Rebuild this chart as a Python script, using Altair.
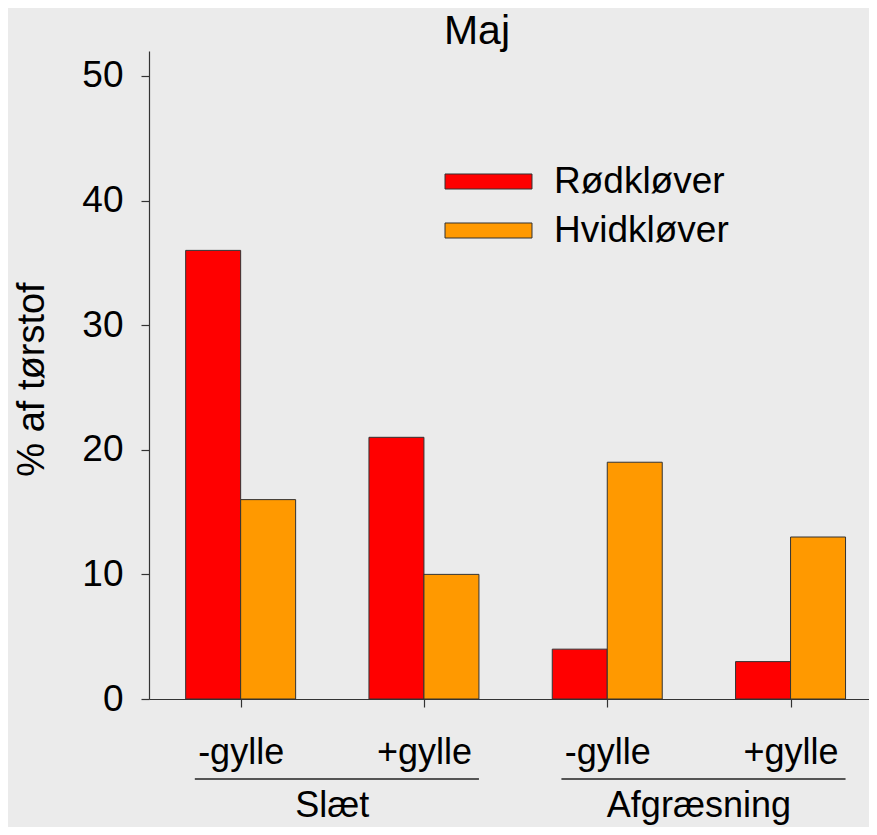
import json
import altair as alt
import pandas as pd

# ---- data ----
groups = ["Slæt", "Slæt", "Afgræsning", "Afgræsning"]
subgroups = ["-gylle", "+gylle", "-gylle", "+gylle"]
series_names = ["Rødkløver", "Hvidkløver"]
rodklover = [36, 21, 4, 3]
hvidklover = [16, 10, 19, 13]
y_ticks = [0, 10, 20, 30, 40, 50]
title_text = "Maj"
y_title = "% af tørstof"

# ---- styles ----
colors = ["#ff0000", "#ff9900"]
FONT = "Liberation Sans"
BAR = 0.3  # bar width in category units
STEP_PX = 183.3
W, H = 720, 648

rows = []
for i in range(len(subgroups)):
    for k, vals in enumerate([rodklover, hvidklover]):
        rows.append(dict(pos=i + 0.5, series=series_names[k], value=vals[i], k=k))
bars_df = pd.DataFrame(rows)

grows = []
for g in dict.fromkeys(groups):
    idx = [i for i, gg in enumerate(groups) if gg == g]
    grows.append(dict(group=g, first=min(idx) + 0.5, last=max(idx) + 0.5))
groups_df = pd.DataFrame(grows)

xscale = alt.Scale(domain=[0, W / STEP_PX], nice=False, zero=False)
label_expr = f"{json.dumps(subgroups)}[floor(datum.value)]"

bars = (
    alt.Chart(bars_df)
    .transform_calculate(
        x0=f"datum.pos + (datum.k - 1) * {BAR}",
        x1=f"datum.pos + datum.k * {BAR}",
        base="0",
    )
    .mark_bar(stroke="#333333", strokeWidth=1)
    .encode(
        x=alt.X(
            "x0:Q",
            scale=xscale,
            axis=alt.Axis(
                values=[i + 0.5 for i in range(len(subgroups))],
                labelExpr=label_expr,
                title=None,
                grid=False,
                tickSize=8,
                labelPadding=28,
                labelBaseline="top",
                labelFontSize=36,
            ),
        ),
        x2="x1:Q",
        y=alt.Y(
            "value:Q",
            scale=alt.Scale(domain=[0, 52], nice=False),
            axis=alt.Axis(
                values=y_ticks,
                title=y_title,
                grid=False,
                tickSize=8,
                labelPadding=18,
                labelFontSize=37,
                titleFontSize=38,
                titleFontWeight="normal",
                titleAngle=270,
                titleBaseline="alphabetic",
                titleAlign="center",
                titleX=-106,
                titleY=328,
            ),
        ),
        y2="base:Q",
        color=alt.Color(
            "series:N",
            scale=alt.Scale(domain=series_names, range=colors),
            legend=alt.Legend(
                title=None,
                orient="none",
                legendX=317,
                legendY=108,
                symbolType="M-2,-0.345H2V0.345H-2Z",
                symbolSize=1892,
                symbolStrokeColor="#333333",
                symbolStrokeWidth=1,
                labelFontSize=37,
                labelFont=FONT,
                labelColor="black",
                labelOffset=43,
                labelLimit=0,
                rowPadding=8,
                padding=0,
            ),
        ),
    )
)

rules = (
    alt.Chart(groups_df)
    .transform_calculate(r0="datum.first - 0.25", r1="datum.last + 0.3")
    .mark_rule(color="#222222", strokeWidth=1.3)
    .encode(x=alt.X("r0:Q", scale=xscale), x2="r1:Q", y=alt.value(728))
)

glabels = (
    alt.Chart(groups_df)
    .transform_calculate(mid="(datum.first + datum.last) / 2")
    .mark_text(font=FONT, fontSize=36, color="black", baseline="alphabetic", align="center")
    .encode(x=alt.X("mid:Q", scale=xscale), y=alt.value(766), text="group:N")
)

chart = (
    alt.layer(bars, rules, glabels)
    .properties(
        width=W,
        height=H,
        title=alt.TitleParams(
            title_text,
            fontSize=41,
            font=FONT,
            fontWeight="normal",
            color="black",
            anchor="middle",
            frame="group",
            dx=-32,
            dy=43,
            offset=9,
            baseline="alphabetic",
        ),
        autosize=alt.AutoSizeParams(type="none"),
        padding={"left": 141, "top": 43, "right": 0, "bottom": 128},
        background="#ebebeb",
    )
    .configure_view(stroke=None)
    .configure_axis(
        labelFont=FONT,
        titleFont=FONT,
        labelColor="black",
        titleColor="black",
        domainColor="#333333",
        tickColor="#333333",
        domainWidth=1.2,
        tickWidth=1.2,
    )
)

chart.save("out.html", embed_options={"renderer": "svg", "actions": False})
